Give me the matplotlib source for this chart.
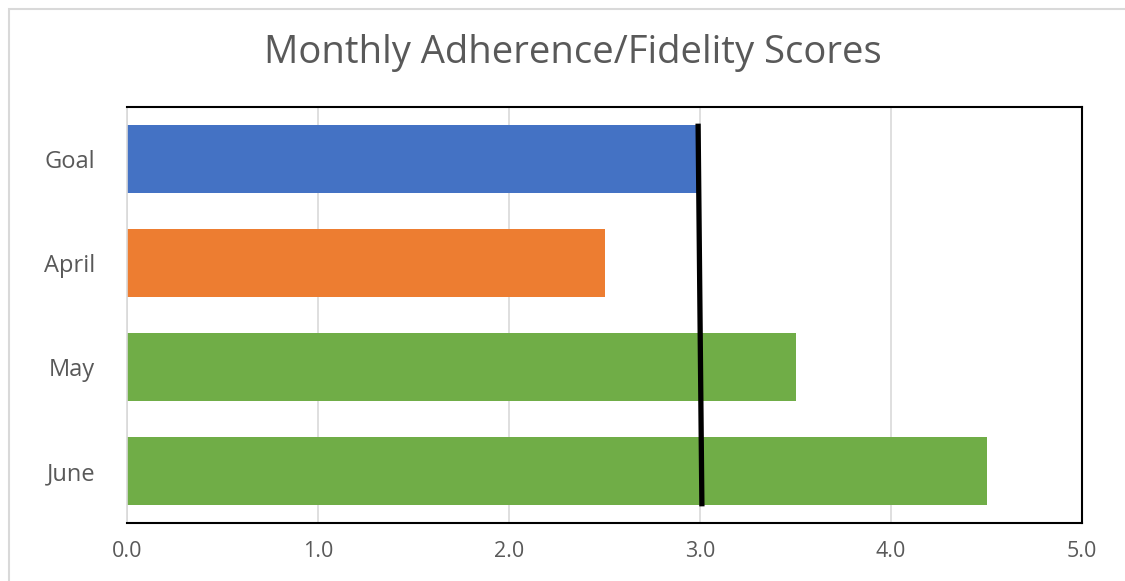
import matplotlib.pyplot as plt
from matplotlib.patches import Rectangle

# Chart data
categories = ['Goal', 'April', 'May', 'June']
scores = [3.0, 2.5, 3.5, 4.5]
bar_colors = ['#4472C4', '#ED7D31', '#70AD47', '#70AD47']
goal_line_x = [2.99, 3.01]
x_ticks = [0.0, 1.0, 2.0, 3.0, 4.0, 5.0]

plt.rcParams['font.family'] = ['Open Sans', 'DejaVu Sans']
text_color = '#595959'

fig = plt.figure(figsize=(11.25, 5.81), dpi=100)
ax = fig.add_axes([127 / 1125, 1 - 523 / 581, 955 / 1125, 416 / 581])

# Outer chart border
fig.patches.append(Rectangle((9 / 1125, -0.05), 1.2, 1 - 9 / 581 + 0.05,
                             transform=fig.transFigure, fill=False,
                             edgecolor='#D9D9D9', linewidth=1.5))

y_pos = list(range(len(categories)))
ax.barh(y_pos, scores, height=0.66, color=bar_colors, zorder=2)

# Goal line across all bars
ax.plot(goal_line_x, [-0.34, 3.34], color='black', linewidth=3.8,
        solid_capstyle='butt', zorder=3)

ax.set_xlim(0, 5)
ax.set_ylim(3.5, -0.5)
ax.set_yticks(y_pos)
ax.set_yticklabels(categories)
ax.set_xticks(x_ticks)
ax.set_xticklabels([f'{t:.1f}' for t in x_ticks])

ax.grid(True, axis='x', color='#D9D9D9', linewidth=1.2, zorder=0)
ax.set_axisbelow(True)
ax.tick_params(axis='both', length=0, colors=text_color)
ax.tick_params(axis='y', pad=23, labelsize=17)
ax.tick_params(axis='x', pad=13, labelsize=15.5)

for side in ['top', 'right', 'bottom']:
    ax.spines[side].set_color('black')
    ax.spines[side].set_linewidth(1.5)
ax.spines['left'].set_color('#D9D9D9')
ax.spines['left'].set_linewidth(1.2)

fig.text(573 / 1125, 1 - 53 / 581, 'Monthly Adherence/Fidelity Scores',
         ha='center', va='center', fontsize=27.5, color=text_color)

fig.savefig('out.png', dpi=100)
